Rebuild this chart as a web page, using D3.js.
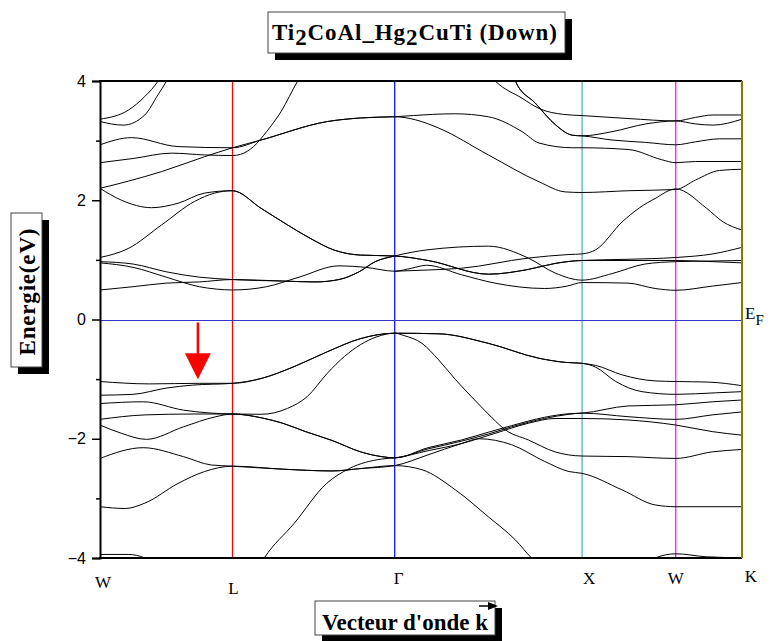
<!DOCTYPE html>
<html>
<head>
<meta charset="utf-8">
<script src="https://cdn.jsdelivr.net/npm/d3@7"></script>
<style>
  body { margin: 0; background: #fff; }
  svg { display: block; }
  .band { fill: none; stroke: #000; stroke-width: 1; }
  .ytick text { font-family: "Liberation Sans", Arial, sans-serif; font-size: 16px; }
  .klabel { font-family: "Liberation Serif", "Times New Roman", serif; font-size: 17px; }
  .boxtitle { font-family: "Liberation Serif", "Times New Roman", serif; font-weight: bold; font-size: 23px; }
</style>
</head>
<body>
<div id="chart"></div>
<script>
// high symmetry points along the path W-L-G-X-W-K (units of 2pi/a)
const kLabels = ["W", "L", "Γ", "X", "W", "K"];
const kDist = [0, 0.7071, 1.5731, 2.5731, 3.0731, 3.4267];
const kColors = [null, "#ff0000", "#0000ff", "#40b0b0", "#ff00ff", "#808000"];

const yMajor = [-4, -2, 0, 2, 4];
const yMinor = [-3, -1, 1, 3];

// each band: [path position s, energy eV]; s = 0 at W, 1 at L, 2 at Gamma, 3 at X, 4 at W, 5 at K
const bands = [
  [[0,3.36],[0.213,3.51],[0.338,3.74],[0.438,4.0],[0.5,4.25]],
  [[0,3.32],[0.175,3.26],[0.338,3.43],[0.438,3.77],[0.5,3.99],[0.55,4.2]],
  [[0,2.93],[0.238,3.05],[0.589,2.90],[1,2.88],[1.176,3.01],[1.585,3.32],[1.79,3.38],[2,3.40],[2.2,3.44],[2.32,3.45],[2.5,3.40],[2.68,3.15],[2.77,2.96],[2.95,2.88],[3,2.88],[3.5,2.85],[3.85,2.68],[4,2.63],[4.3,2.65],[5,2.65]],
  [[0,2.20],[0.213,2.32],[0.464,2.48],[0.789,2.73],[1,2.88],[1.176,3.01],[1.585,3.32],[1.79,3.38],[2,3.40],[2.11,3.35],[2.235,3.21],[2.5,2.76],[2.77,2.31],[2.91,2.14],[3,2.13],[3.5,2.16],[4,2.18],[4.3,2.34],[4.66,2.50],[5,2.52]],
  [[0,2.63],[0.25,2.70],[0.539,2.79],[0.789,2.76],[1,2.75],[1.05,2.77],[1.13,2.90],[1.21,3.15],[1.30,3.49],[1.40,3.99],[1.45,4.2]],
  [[2.48,4.2],[2.54,3.99],[2.68,3.71],[2.77,3.54],[2.9,3.44],[3,3.42],[3.5,3.37],[4,3.33],[4.3,3.39],[4.56,3.43],[5,3.43]],
  [[2.62,4.2],[2.645,3.99],[2.75,3.63],[2.86,3.26],[2.95,3.09],[3,3.08],[3.32,3.15],[3.68,3.28],[4,3.33],[4.3,3.28],[4.56,3.26],[5,3.36]],
  [[2.62,4.2],[2.645,3.99],[2.75,3.63],[2.86,3.26],[2.95,3.09],[3,3.08],[3.32,3.01],[3.68,2.97],[4,2.93],[4.3,2.98],[4.66,3.03],[5,3.03]],
  [[0,2.20],[0.163,2.00],[0.389,1.875],[0.589,1.95],[0.789,2.12],[1,2.16],[1.176,1.865],[1.34,1.585],[1.48,1.36],[1.626,1.165],[1.79,1.08],[2,1.065],[2.178,0.99],[2.5,0.76],[2.713,0.84],[2.856,0.94],[3,0.99],[3.49,1.01],[4,1.04],[4.56,1.10],[5,1.21]],
  [[0,1.04],[0.213,1.19],[0.464,1.585],[0.714,1.98],[0.865,2.12],[1,2.16],[1.176,1.865],[1.34,1.585],[1.48,1.36],[1.626,1.165],[1.79,1.08],[2,1.065],[2.178,0.99],[2.5,0.76],[2.713,0.84],[2.856,0.94],[3,0.99],[3.49,0.99],[4,0.99],[4.56,0.97],[5,0.95]],
  [[0,0.97],[0.25,0.93],[0.5,0.80],[0.75,0.71],[1,0.67],[1.31,0.645],[1.51,0.63],[1.656,0.67],[1.78,0.80],[1.88,0.97],[2,1.065],[2.178,1.17],[2.5,1.23],[2.713,1.03],[2.856,0.78],[3,0.66],[3.32,0.77],[3.67,0.93],[4,0.97],[4.5,0.98],[5,0.99]],
  [[0,0.495],[0.25,0.55],[0.5,0.61],[0.75,0.63],[1,0.67],[1.31,0.645],[1.51,0.63],[1.656,0.67],[1.78,0.80],[1.88,0.97],[2,1.065]],
  [[0,0.95],[0.25,0.875],[0.5,0.71],[0.75,0.55],[0.877,0.51],[1,0.495],[1.21,0.55],[1.41,0.71],[1.656,0.90],[1.82,0.875],[2,0.81],[2.09,0.86],[2.17,0.91],[2.357,0.75],[2.535,0.61],[2.8,0.52],[2.92,0.56],[3,0.62],[3.49,0.61],[3.78,0.52],[4,0.49],[4.55,0.56],[5,0.62]],
  [[2,0.81],[2.178,0.83],[2.357,0.86],[2.713,1.03],[2.93,1.09],[3,1.10],[3.146,1.17],[3.43,1.64],[3.61,1.87],[3.78,2.03],[4,2.19],[4.46,1.87],[4.71,1.64],[5,1.50]],
  [[0,-1.04],[0.375,-1.08],[0.75,-1.07],[1,-1.07],[1.176,-0.99],[1.38,-0.79],[1.585,-0.54],[1.79,-0.32],[2,-0.23],[2.235,-0.24],[2.5,-0.40],[2.77,-0.65],[2.913,-0.72],[3,-0.735],[3.146,-0.77],[3.43,-0.93],[3.78,-1.03],[4,-1.04],[4.5,-1.05],[5,-1.11]],
  [[0,-1.27],[0.25,-1.255],[0.5,-1.15],[0.7,-1.10],[1,-1.07],[1.176,-0.99],[1.38,-0.79],[1.585,-0.54],[1.79,-0.32],[2,-0.23],[2.235,-0.24],[2.5,-0.40],[2.77,-0.65],[2.913,-0.72],[3,-0.735],[3.146,-0.80],[3.36,-1.04],[3.64,-1.21],[4,-1.255],[4.6,-1.23],[5,-1.21]],
  [[0,-1.41],[0.326,-1.38],[0.63,-1.52],[1,-1.585],[1.176,-1.59],[1.34,-1.49],[1.46,-1.295],[1.585,-0.90],[1.69,-0.62],[1.89,-0.29],[2,-0.23],[2.05,-0.27],[2.146,-0.40],[2.235,-0.68],[2.325,-1.01],[2.445,-1.41],[2.52,-1.65],[2.59,-1.85],[2.713,-2.02],[2.856,-2.22],[3,-2.29],[3.49,-2.30],[4,-2.33],[4.55,-2.22],[5,-2.18]],
  [[0,-1.675],[0.34,-1.60],[0.71,-1.585],[1,-1.585],[1.18,-1.65],[1.31,-1.74],[1.45,-1.88],[1.615,-2.03],[1.79,-2.22],[1.92,-2.30],[2,-2.32],[2.178,-2.15],[2.357,-2.02],[2.5,-1.89],[2.624,-1.78],[2.8,-1.64],[2.93,-1.58],[3,-1.57],[3.49,-1.45],[4,-1.43],[4.55,-1.38],[5,-1.35]],
  [[0,-1.77],[0.163,-1.91],[0.35,-2.01],[0.63,-1.80],[0.875,-1.63],[1,-1.585],[1.18,-1.65],[1.31,-1.74],[1.45,-1.88],[1.615,-2.03],[1.79,-2.22],[1.92,-2.30],[2,-2.32],[2.178,-2.17],[2.357,-2.04],[2.5,-1.92],[2.624,-1.80],[2.8,-1.66],[2.93,-1.59],[3,-1.57],[3.49,-1.63],[4,-1.675],[4.55,-1.60],[5,-1.55]],
  [[1.13,-4.3],[1.196,-4.0],[1.38,-3.42],[1.58,-2.75],[1.72,-2.50],[1.92,-2.34],[2,-2.32],[2.178,-2.20],[2.357,-2.08],[2.535,-1.91],[2.713,-1.74],[2.856,-1.66],[3,-1.66],[3.49,-1.685],[4,-1.77],[4.55,-1.88],[5,-1.94]],
  [[0,-2.33],[0.326,-2.15],[0.63,-2.30],[0.84,-2.44],[1,-2.46],[1.31,-2.51],[1.615,-2.54],[1.79,-2.50],[2,-2.45],[2.178,-2.27],[2.357,-2.08],[2.45,-2.00],[2.624,-2.10],[2.8,-2.38],[2.93,-2.55],[3,-2.58],[3.43,-2.86],[3.78,-3.11],[4,-3.14],[5,-3.14]],
  [[0,-3.14],[0.19,-3.17],[0.338,-3.08],[0.589,-2.75],[0.789,-2.55],[1,-2.46],[1.31,-2.51],[1.615,-2.54],[1.79,-2.50],[2,-2.45],[2.146,-2.52],[2.325,-2.86],[2.5,-3.31],[2.645,-3.70],[2.73,-4.0],[2.8,-4.2]],
  [[0,-3.94],[0.213,-3.94],[0.338,-4.0],[0.45,-4.2]],
  [[3.6,-4.2],[3.78,-4.0],[4,-3.93],[4.46,-3.98],[4.92,-4.0],[5,-4.02]]
];

// red arrow marking the flat band between W and L: [s, E start, E tip]
const arrowMark = [0.739, -0.05, -1.0];

const width = 773, height = 641;
const plot = { left: 100, right: 742, top: 81, bottom: 558 };

const svg = d3.select("#chart").append("svg")
  .attr("width", width)
  .attr("height", height);

const x = d3.scaleLinear().domain([kDist[0], kDist[kDist.length - 1]]).range([plot.left, plot.right]);
const y = d3.scaleLinear().domain([-4, 4]).range([plot.bottom, plot.top]);

// path position s -> k distance
const sToK = function(s) {
  let i = Math.min(Math.floor(s), kDist.length - 2);
  return kDist[i] + (s - i) * (kDist[i + 1] - kDist[i]);
};

svg.append("clipPath").attr("id", "plotclip")
  .append("rect")
  .attr("x", plot.left).attr("y", plot.top)
  .attr("width", plot.right - plot.left).attr("height", plot.bottom - plot.top);

// vertical lines at the high symmetry points
svg.selectAll("line.kline")
  .data(kDist.slice(1, kDist.length - 1))
  .enter().append("line")
  .attr("class", "kline")
  .attr("x1", d => x(d)).attr("x2", d => x(d))
  .attr("y1", plot.top).attr("y2", plot.bottom)
  .attr("stroke", (d, i) => kColors[i + 1])
  .attr("stroke-width", 1.2);

// Fermi level
svg.append("line")
  .attr("x1", plot.left).attr("x2", plot.right)
  .attr("y1", Math.round(y(0)) + 0.5).attr("y2", Math.round(y(0)) + 0.5)
  .attr("stroke", "#3434c8")
  .attr("stroke-width", 1.2);

const line = d3.line()
  .x(d => x(sToK(d[0])))
  .y(d => y(d[1]))
  .curve(d3.curveMonotoneX);

svg.append("g")
  .attr("clip-path", "url(#plotclip)")
  .selectAll("path.band")
  .data(bands)
  .enter().append("path")
  .attr("class", "band")
  .attr("d", line);

// frame: top and bottom black, right side olive (K)
svg.append("line")
  .attr("x1", plot.left - 1).attr("x2", plot.right)
  .attr("y1", plot.top).attr("y2", plot.top)
  .attr("stroke", "#000").attr("stroke-width", 2);
svg.append("line")
  .attr("x1", plot.left - 1).attr("x2", plot.right)
  .attr("y1", plot.bottom).attr("y2", plot.bottom)
  .attr("stroke", "#000").attr("stroke-width", 2);
svg.append("line")
  .attr("x1", x(kDist[kDist.length - 1])).attr("x2", x(kDist[kDist.length - 1]))
  .attr("y1", plot.top).attr("y2", plot.bottom)
  .attr("stroke", kColors[kColors.length - 1]).attr("stroke-width", 2);

// left axis, major and minor ticks
let yAxisMajor = svg.append("g")
  .attr("class", "ytick")
  .attr("transform", "translate(" + plot.left + ",0)")
  .call(d3.axisLeft(y).tickValues(yMajor).tickSize(8).tickPadding(6).tickFormat(d3.format("d")));
yAxisMajor.select(".domain").attr("stroke-width", 2);
yAxisMajor.selectAll(".tick line").attr("stroke-width", 1.5);

svg.append("g")
  .attr("transform", "translate(" + plot.left + ",0)")
  .call(d3.axisLeft(y).tickValues(yMinor).tickSize(4).tickFormat(""))
  .call(g => g.select(".domain").remove())
  .selectAll(".tick line").attr("stroke-width", 1.5);

// k-point labels
const labelNudge = [[3, 30], [1, 36], [4, 26], [7, 26], [0, 26], [9, 24]];
svg.selectAll("text.klabel")
  .data(kLabels)
  .enter().append("text")
  .attr("class", "klabel")
  .attr("text-anchor", "middle")
  .attr("x", (d, i) => x(kDist[i]) + labelNudge[i][0])
  .attr("y", (d, i) => plot.bottom + labelNudge[i][1])
  .text(d => d);

// E_F label
let ef = svg.append("text")
  .attr("class", "klabel")
  .attr("x", plot.right + 3)
  .attr("y", y(0) - 1);
ef.append("tspan").text("E");
ef.append("tspan").attr("dy", 6).attr("font-size", "15px").text("F");

// red arrow
let ax = x(sToK(arrowMark[0]));
svg.append("line")
  .attr("x1", ax).attr("x2", ax)
  .attr("y1", y(arrowMark[1])).attr("y2", y(arrowMark[2]) - 20)
  .attr("stroke", "#ff0000").attr("stroke-width", 2.5);
svg.append("polygon")
  .attr("points", (ax - 13) + "," + (y(arrowMark[2]) - 26) + " " + (ax + 13) + "," + (y(arrowMark[2]) - 26) + " " + ax + "," + y(arrowMark[2]))
  .attr("fill", "#ff0000");

// boxed labels with a drop shadow
const shadowBox = function(bx, by, bw, bh) {
  svg.append("rect")
    .attr("x", bx + 7).attr("y", by + 7)
    .attr("width", bw).attr("height", bh)
    .attr("fill", "#000");
  svg.append("rect")
    .attr("x", bx).attr("y", by)
    .attr("width", bw).attr("height", bh)
    .attr("fill", "#fff")
    .attr("stroke", "#444").attr("stroke-width", 1);
};

// title
shadowBox(268, 12, 297, 41);
let title = svg.append("text")
  .attr("class", "boxtitle")
  .attr("x", 272)
  .attr("y", 40)
  .attr("textLength", 285)
  .attr("lengthAdjust", "spacing");
title.append("tspan").text("Ti");
title.append("tspan").attr("dy", 5).text("2");
title.append("tspan").attr("dy", -5).text("CoAl_Hg");
title.append("tspan").attr("dy", 5).text("2");
title.append("tspan").attr("dy", -5).text("CuTi (Down)");

// y axis title
shadowBox(11, 213, 31, 154);
svg.append("text")
  .attr("class", "boxtitle")
  .attr("text-anchor", "middle")
  .attr("transform", "translate(35,292) rotate(-90)")
  .attr("textLength", 127)
  .attr("lengthAdjust", "spacing")
  .text("Energie(eV)");

// x axis title
shadowBox(315, 601, 180, 34);
svg.append("text")
  .attr("class", "boxtitle")
  .attr("x", 322)
  .attr("y", 630)
  .attr("font-size", "21px")
  .attr("textLength", 166)
  .attr("lengthAdjust", "spacingAndGlyphs")
  .text("Vecteur d'onde k");
// vector arrow over k
svg.append("line")
  .attr("x1", 479).attr("x2", 490)
  .attr("y1", 606).attr("y2", 606)
  .attr("stroke", "#000").attr("stroke-width", 1.5);
svg.append("polygon")
  .attr("points", "488,602 498,606 488,610")
  .attr("fill", "#000");
</script>
</body>
</html>
